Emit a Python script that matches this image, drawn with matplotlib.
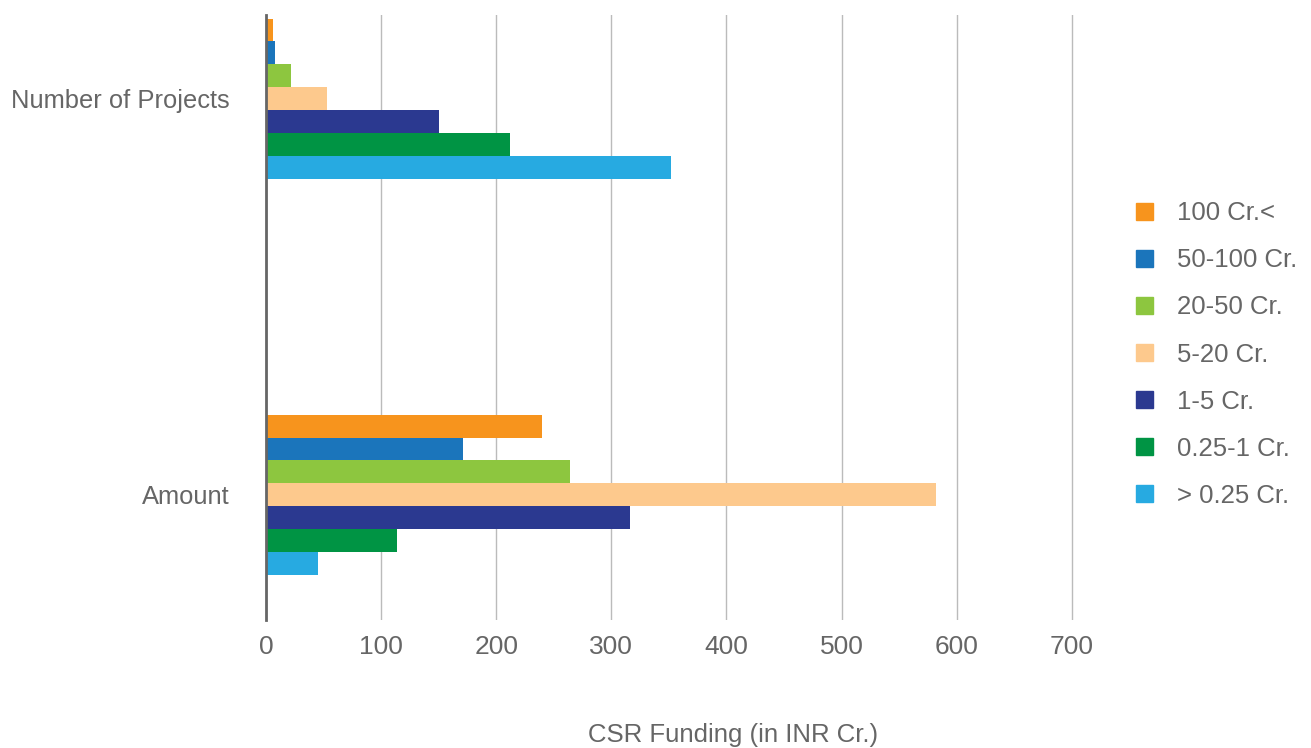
import numpy as np
import matplotlib.pyplot as plt
from matplotlib.patches import Patch

plt.rcParams['font.family'] = ['Liberation Sans', 'DejaVu Sans']

# Данные
categories = ['Amount', 'Number of Projects']
series = ['100 Cr.<', '50-100 Cr.', '20-50 Cr.', '5-20 Cr.', '1-5 Cr.', '0.25-1 Cr.', '> 0.25 Cr.']
projects = [6, 8, 22, 53, 150, 212, 352]
amount = [240, 171, 264, 582, 316, 114, 45]
colors = ['#F7941D', '#1B75BB', '#8DC63F', '#FDC98D', '#2B3990', '#009444', '#27AAE1']
xticks = [0, 100, 200, 300, 400, 500, 600, 700]

fig = plt.figure(figsize=(13.11, 7.48), dpi=100)
ax = fig.add_axes([0.203, 0.171, 0.632, 0.809])

# Группы горизонтальных столбцов
y = np.arange(len(categories))
h = 0.058
for i, name in enumerate(series):
    offset = (3 - i) * h
    vals = [amount[i], projects[i]]
    ax.barh(y + offset, vals, height=h, color=colors[i], label=name, zorder=3)

ax.set_xlim(0, 720)
ax.set_ylim(-0.316, 1.212)
ax.set_xticks(xticks)
ax.set_yticks(y)
ax.set_yticklabels(categories, fontsize=18.4)
ax.grid(axis='x', color='#BBBBBB', linewidth=1, zorder=0)
for s in ['top', 'right', 'bottom']:
    ax.spines[s].set_visible(False)
ax.spines['left'].set_color('#666666')
ax.spines['left'].set_linewidth(2)
ax.spines['left'].set_zorder(4)
ax.tick_params(axis='both', length=0, colors='#666666')
ax.tick_params(axis='x', pad=11, labelsize=19)
ax.tick_params(axis='y', pad=26.5)

fig.text(0.559, 0.0174, 'CSR Funding (in INR Cr.)', fontsize=18.5, color='#666666',
         ha='center', va='center')

# Легенда справа
handles = [Patch(color=c, label=s) for c, s in zip(colors, series)]
fig.legend(handles=handles, loc='upper left', bbox_to_anchor=(0.849, 0.762),
           frameon=False, fontsize=18.5, handlelength=0.65, handleheight=0.65,
           labelspacing=0.9, handletextpad=0.93, labelcolor='#666666')

fig.savefig('out.png', dpi=100)
